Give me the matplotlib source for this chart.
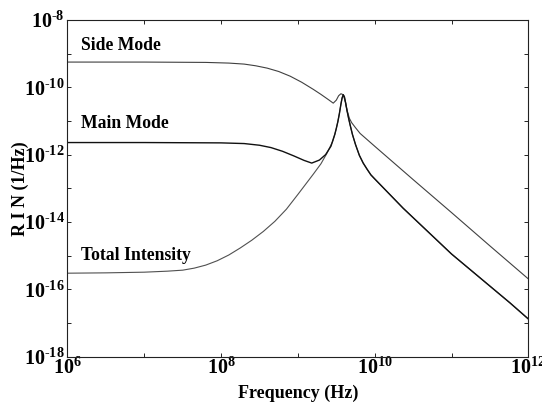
import numpy as np
import matplotlib
matplotlib.use("Agg")
import matplotlib.pyplot as plt
from matplotlib.ticker import FixedLocator, FixedFormatter, NullFormatter

plt.rcParams['font.family'] = ['Liberation Serif', 'DejaVu Serif']
plt.rcParams['font.weight'] = 'bold'
plt.rcParams['mathtext.fontset'] = 'custom'
plt.rcParams['mathtext.rm'] = 'Liberation Serif:bold'
plt.rcParams['mathtext.default'] = 'rm'

# log10 of frequency (Hz) and log10 of RIN (1/Hz)
side_logf = [6.0, 7.0, 7.8, 8.1, 8.3, 8.45, 8.6, 8.75, 8.9, 9.05, 9.2, 9.3, 9.4, 9.46,
             9.50, 9.53, 9.56, 9.59, 9.62, 9.64, 9.67, 9.70, 9.75, 9.81, 10.0, 10.5,
             11.0, 11.5, 12.0]
side_lograin = [-9.25, -9.25, -9.26, -9.28, -9.31, -9.36, -9.43, -9.53, -9.67, -9.85,
                -10.06, -10.21, -10.37, -10.47, -10.38, -10.25, -10.19, -10.22, -10.45,
                -10.68, -10.92, -11.05, -11.20, -11.37, -11.75, -12.74, -13.72, -14.71,
                -15.69]

main_logf = [6.0, 7.0, 8.0, 8.3, 8.5, 8.65, 8.8, 8.95, 9.08, 9.18, 9.28, 9.36, 9.43,
             9.48, 9.50, 9.52, 9.54, 9.56, 9.575, 9.59, 9.605, 9.62, 9.64, 9.66, 9.68,
             9.71, 9.75, 9.80, 9.85, 9.9, 9.95, 10.0, 10.37, 11.0, 11.76, 12.0]
main_lograin = [-11.64, -11.64, -11.65, -11.67, -11.72, -11.79, -11.90, -12.04, -12.17,
                -12.25, -12.16, -12.0, -11.75, -11.40, -11.22, -11.02, -10.78, -10.50,
                -10.32, -10.22, -10.28, -10.45, -10.70, -10.92, -11.12, -11.40, -11.70,
                -12.02, -12.25, -12.43, -12.60, -12.72, -13.59, -14.95, -16.40, -16.88]

total_logf = [6.0, 6.5, 7.0, 7.3, 7.5, 7.65, 7.8, 7.95, 8.1, 8.25, 8.4, 8.55, 8.7, 8.85,
              9.0, 9.1, 9.2, 9.3, 9.38, 9.45, 9.48, 9.50, 9.52, 9.54, 9.56, 9.575, 9.59,
              9.605, 9.62, 9.64, 9.66, 9.68, 9.71, 9.75, 9.80, 9.85, 9.9, 9.95, 10.0,
              10.37, 11.0, 11.76, 12.0]
total_lograin = [-15.52, -15.51, -15.49, -15.46, -15.43, -15.37, -15.28, -15.15, -14.98,
                 -14.77, -14.54, -14.28, -13.98, -13.62, -13.18, -12.88, -12.58, -12.27,
                 -11.95, -11.62, -11.40, -11.22, -11.02, -10.78, -10.50, -10.32, -10.22,
                 -10.28, -10.45, -10.70, -10.92, -11.12, -11.40, -11.70, -12.02, -12.25,
                 -12.43, -12.60, -12.72, -13.59, -14.95, -16.40, -16.88]

x_major = [1e6, 1e8, 1e10, 1e12]
x_major_labels = ['$10^{6}$', '$10^{8}$', '$10^{10}$', '$10^{12}$']
x_minor = [1e7, 1e9, 1e11]
y_major = [1e-8, 1e-10, 1e-12, 1e-14, 1e-16, 1e-18]
y_major_labels = ['$10^{\u20108}$', '$10^{\u201010}$', '$10^{\u201012}$',
                  '$10^{\u201014}$', '$10^{\u201016}$', '$10^{\u201018}$']
y_minor = [1e-9, 1e-11, 1e-13, 1e-15, 1e-17]

fig = plt.figure(figsize=(5.42, 4.07), dpi=100)
ax = fig.add_axes([0.1245, 0.1236, 0.8503, 0.8273])

ax.plot(10 ** np.array(side_logf), 10 ** np.array(side_lograin), color='#404040', lw=0.8)
ax.plot(10 ** np.array(total_logf), 10 ** np.array(total_lograin), color='#505050', lw=0.8)
ax.plot(10 ** np.array(main_logf), 10 ** np.array(main_lograin), color='#111111', lw=1.0)

ax.set_xscale('log')
ax.set_yscale('log')
ax.set_xlim(1e6, 1e12)
ax.set_ylim(1e-18, 1e-8)

ax.xaxis.set_major_locator(FixedLocator(x_major))
ax.xaxis.set_major_formatter(FixedFormatter(x_major_labels))
ax.xaxis.set_minor_locator(FixedLocator(x_minor))
ax.xaxis.set_minor_formatter(NullFormatter())
ax.yaxis.set_major_locator(FixedLocator(y_major))
ax.yaxis.set_major_formatter(FixedFormatter(y_major_labels))
ax.yaxis.set_minor_locator(FixedLocator(y_minor))
ax.yaxis.set_minor_formatter(NullFormatter())

ax.tick_params(which='both', direction='in', length=3, width=0.6,
               top=True, right=True, labelsize=14.5)
ax.tick_params(axis='x', pad=1)
ax.tick_params(axis='y', pad=2)
for s in ax.spines.values():
    s.set_linewidth(0.8)
    s.set_color('#222222')

ax.set_xlabel('Frequency (Hz)', fontsize=13, fontweight='bold', labelpad=4)
ax.set_ylabel('R I N (1/Hz)', fontsize=13, fontweight='bold', labelpad=-4)

ax.text(10 ** 6.17, 10 ** -8.77, 'Side Mode', fontsize=12.7, fontweight='bold', va='center')
ax.text(10 ** 6.17, 10 ** -11.08, 'Main Mode', fontsize=12.7, fontweight='bold', va='center')
ax.text(10 ** 6.17, 10 ** -14.99, 'Total Intensity', fontsize=12.7, fontweight='bold', va='center')

fig.savefig('out.png', dpi=100)
